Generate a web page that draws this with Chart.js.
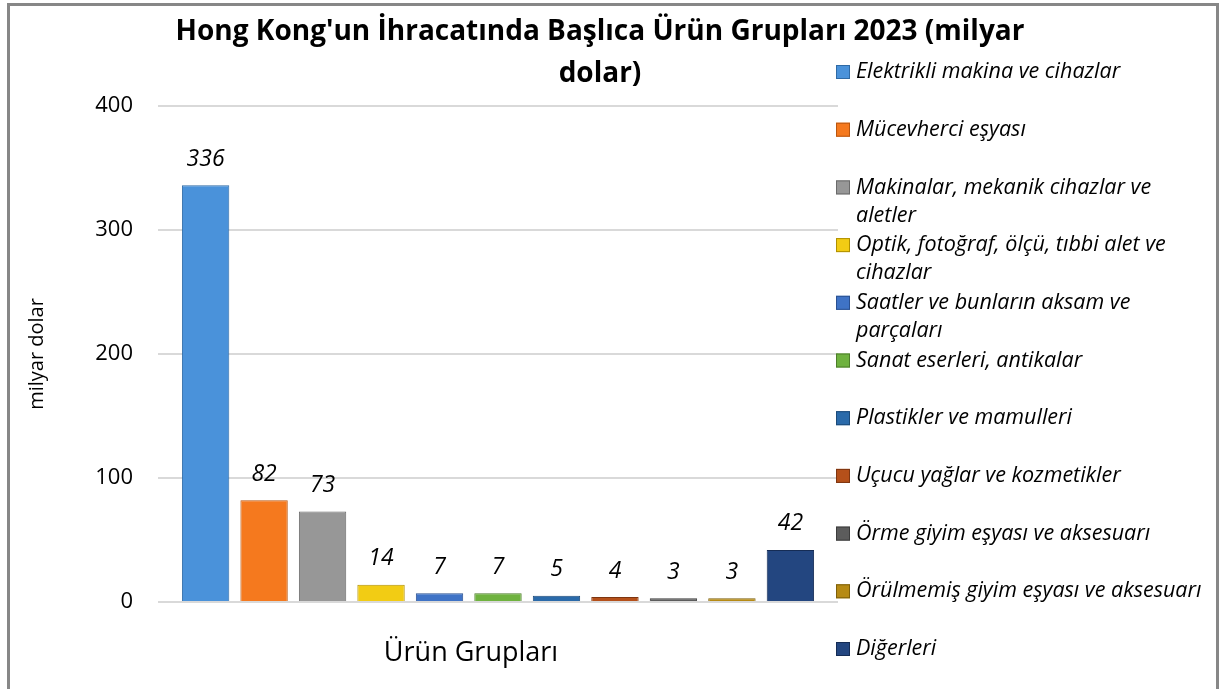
<!DOCTYPE html>
<html>
<head>
<meta charset="utf-8">
<script src="https://cdn.jsdelivr.net/npm/chart.js@4.4.0/dist/chart.umd.min.js"></script>
<style>
  body { margin: 0; background: #fff; overflow: hidden; }
  canvas { position: absolute; left: 0; top: 0; }
  #frame { position: absolute; left: 7px; top: 3px; width: 1212px; height: 720px; border: 3px solid #878787; box-sizing: border-box; pointer-events: none; }
</style>
</head>
<body>
<canvas id="myChart" width="1223" height="689"></canvas>
<div id="frame"></div>
<script>
const titleLines = ["Hong Kong'un İhracatında Başlıca Ürün Grupları 2023 (milyar", "dolar)"];
const categories = ["Ürün Grupları"];
const groupNames = [
  "Elektrikli makina ve cihazlar",
  "Mücevherci eşyası",
  "Makinalar, mekanik cihazlar ve\naletler",
  "Optik, fotoğraf, ölçü, tıbbi alet ve\ncihazlar",
  "Saatler ve bunların aksam ve\nparçaları",
  "Sanat eserleri, antikalar",
  "Plastikler ve mamulleri",
  "Uçucu yağlar ve kozmetikler",
  "Örme giyim eşyası ve aksesuarı",
  "Örülmemiş giyim eşyası ve aksesuarı",
  "Diğerleri"
];
const values = [336, 82, 73, 14, 7, 7, 5, 4, 3, 3, 42];
const yTicks = [0, 100, 200, 300, 400];
const yTitle = "milyar dolar";

const fillColors = ["#4a92da", "#f5791e", "#979797", "#f2cc14", "#3f73c6", "#6fb23f",
  "#2a6aaa", "#b5501a", "#5c5c5c", "#b68a14", "#234680"];
const edgeColors = ["#2f6aa5", "#b85610", "#6a6a6a", "#b09000", "#2a5090", "#4c7d2a",
  "#1c4a78", "#7d3510", "#3c3c3c", "#7d5f0a", "#152c55"];

const FONT = "'Open Sans', sans-serif";
Chart.defaults.font.family = FONT;
Chart.defaults.color = "#000";

// numbers above the bars
const valueLabels = {
  id: "valueLabels",
  afterDatasetsDraw(chart) {
    const ctx = chart.ctx;
    ctx.save();
    ctx.font = "italic 23px " + FONT;
    ctx.fillStyle = "#000";
    ctx.textAlign = "center";
    ctx.textBaseline = "middle";
    chart.data.datasets.forEach((ds, i) => {
      const bar = chart.getDatasetMeta(i).data[0];
      ctx.fillText(ds.data[0], bar.x, bar.y - 26);
    });
    ctx.restore();
  }
};

// title + legend on the right, drawn by hand
const sideParts = {
  id: "sideParts",
  afterDraw(chart) {
    const ctx = chart.ctx;
    ctx.save();
    ctx.fillStyle = "#000";
    ctx.textAlign = "center";
    ctx.textBaseline = "middle";
    ctx.font = "bold 28px " + FONT;
    titleLines.forEach((t, j) => ctx.fillText(t, 600, 32 + j * 42));

    ctx.textAlign = "left";
    ctx.font = "italic 21.5px " + FONT;
    chart.data.datasets.forEach((ds, i) => {
      const y = 72 + i * 57.7;
      ctx.fillStyle = ds.backgroundColor;
      ctx.fillRect(836, y - 7, 14, 14);
      ctx.strokeStyle = ds.borderColor;
      ctx.lineWidth = 1;
      ctx.strokeRect(836.5, y - 6.5, 13, 13);
      ctx.fillStyle = "#000";
      ds.label.split("\n").forEach((line, j) => ctx.fillText(line, 856, y + j * 28));
    });
    ctx.restore();
  }
};

const datasets = groupNames.map((name, i) => ({
  label: name,
  data: [values[i]],
  backgroundColor: fillColors[i],
  borderColor: edgeColors[i],
  borderWidth: 1,
  categoryPercentage: 0.946,
  barPercentage: 0.81
}));

const myChart = new Chart(document.querySelector("#myChart").getContext("2d"), {
  type: "bar",
  data: { labels: categories, datasets: datasets },
  options: {
    responsive: false,
    animation: false,
    layout: { padding: { top: 106, right: 385, left: 0, bottom: 0 } },
    plugins: {
      legend: { display: false },
      title: { display: false },
      tooltip: { enabled: false }
    },
    scales: {
      x: {
        grid: { display: false },
        border: { display: false },
        ticks: { font: { size: 27 }, color: "#000", padding: 27, labelOffset: -27 },
        afterFit: (s) => { s.height = 87; }
      },
      y: {
        min: 0,
        max: 400,
        afterBuildTicks: (s) => { s.ticks = yTicks.map(v => ({ value: v })); },
        ticks: { font: { size: 22 }, color: "#000", padding: 25 },
        grid: { color: "#d9d9d9", lineWidth: 2, drawTicks: false },
        border: { display: false },
        title: { display: true, text: yTitle, font: { size: 20 }, color: "#000", padding: { top: 25 } },
        afterFit: (s) => { s.width = 158; }
      }
    }
  },
  plugins: [valueLabels, sideParts]
});
</script>
</body>
</html>
